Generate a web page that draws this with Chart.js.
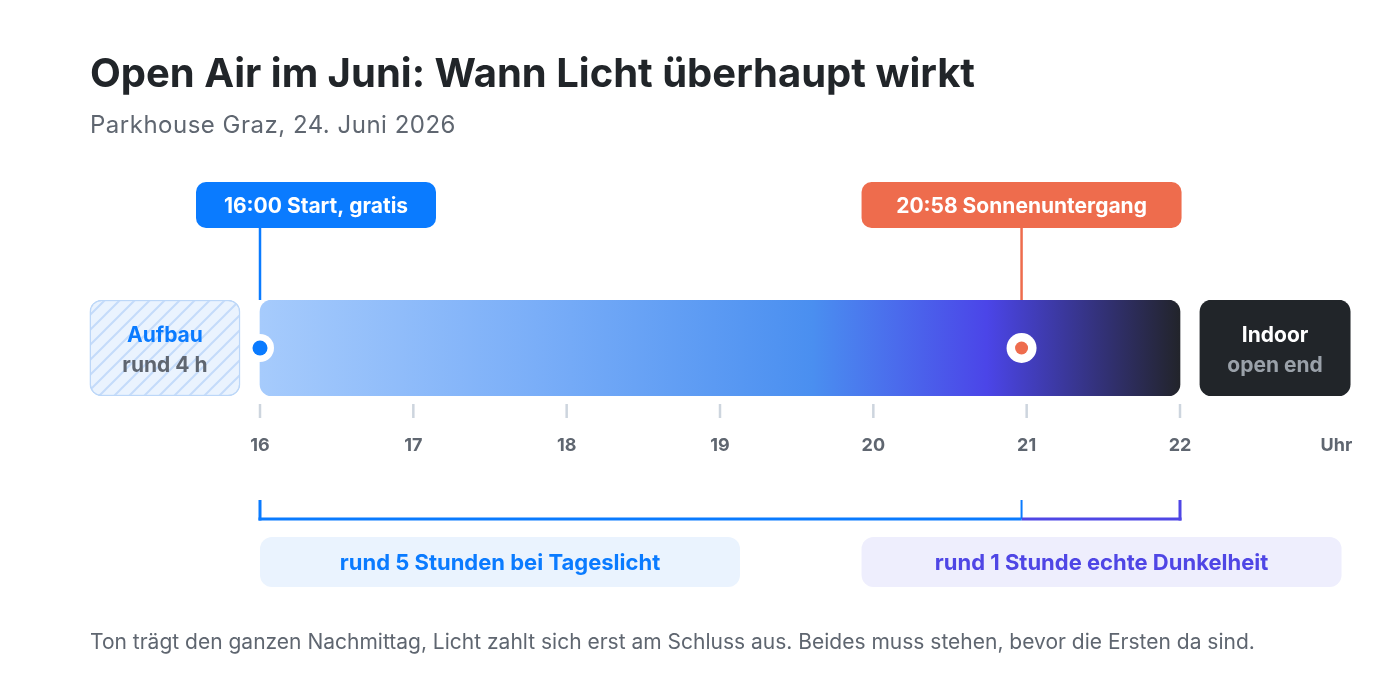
<!DOCTYPE html>
<html>
<head>
<meta charset="utf-8">
<script src="https://cdn.jsdelivr.net/npm/chart.js@4.4.1/dist/chart.umd.min.js"></script>
<style>
  body { margin: 0; background: #fff; font-family: Inter, sans-serif; }
  #wrap { position: relative; width: 1400px; height: 700px; overflow: hidden; }
  #wrap canvas { position: absolute; left: 0; top: 0; }
  .txt { position: absolute; left: 90px; margin: 0; white-space: nowrap; line-height: 1; }
  #title { top: 53px; font-size: 40px; font-weight: 700; color: #212529; }
  #sub { top: 113px; font-size: 24px; font-weight: 400; color: #5f6670; letter-spacing: 0.5px; }
  #note { top: 631px; font-size: 21px; font-weight: 400; color: #5f6670; }
</style>
</head>
<body>
<div id="wrap">
  <canvas id="myChart" width="1400" height="700"></canvas>
  <h1 class="txt" id="title">Open Air im Juni: Wann Licht überhaupt wirkt</h1>
  <div class="txt" id="sub">Parkhouse Graz, 24. Juni 2026</div>
  <div class="txt" id="note">Ton trägt den ganzen Nachmittag, Licht zahlt sich erst am Schluss aus. Beides muss stehen, bevor die Ersten da sind.</div>
</div>
<script>
// data
const tickHours = [16, 17, 18, 19, 20, 21, 22];
const showStart = 16;
const sunset = 20 + 58 / 60;
const showEnd = 22;
const setupText = ['Aufbau', 'rund 4 h'];
const indoorText = ['Indoor', 'open end'];
const markerLabels = ['16:00 Start, gratis', '20:58 Sonnenuntergang'];
const markerTimes = [showStart, sunset];
const spanLabels = ['rund 5 Stunden bei Tageslicht', 'rund 1 Stunde echte Dunkelheit'];
const spanFrom = [showStart, sunset];
const spanTo = [sunset, showEnd];

// side blocks sit just outside the timeline (layout only)
const gap = 0.13, blockW = 0.98;

const BLUE = '#0a7bff', ORANGE = '#ee6c4d', PURPLE = '#4f46e5', DARK = '#212529', GREY = '#5f6670';

function hatch() {
  const p = document.createElement('canvas');
  p.width = p.height = 15;
  const c = p.getContext('2d');
  c.fillStyle = '#eaf3fe';
  c.fillRect(0, 0, 15, 15);
  c.strokeStyle = '#c4dbfa';
  c.lineWidth = 2;
  c.beginPath();
  c.moveTo(0, 15); c.lineTo(15, 0);
  c.moveTo(-4, 4); c.lineTo(4, -4);
  c.moveTo(11, 19); c.lineTo(19, 11);
  c.stroke();
  return c.createPattern(p, 'repeat');
}
const hatchFill = hatch();

function barFill(ctx) {
  const chart = ctx.chart;
  if (!chart.chartArea) return '#4a8ff0';
  if (ctx.dataIndex === 0) return hatchFill;
  if (ctx.dataIndex === 2) return DARK;
  const x = chart.scales.x;
  const g = chart.ctx.createLinearGradient(x.getPixelForValue(showStart), 0, x.getPixelForValue(showEnd), 0);
  g.addColorStop(0, '#a6cbfc');
  g.addColorStop(0.3, '#7aaef8');
  g.addColorStop(0.6, '#4a8ff0');
  g.addColorStop(0.79, '#4b45e8');
  g.addColorStop(1, '#22242b');
  return g;
}

function rrect(c, x, y, w, h, r, fill) {
  c.beginPath();
  c.roundRect(x, y, w, h, r);
  c.fillStyle = fill;
  c.fill();
}
function seg(c, x1, y1, x2, y2, col, w) {
  c.beginPath();
  c.moveTo(x1, y1); c.lineTo(x2, y2);
  c.strokeStyle = col; c.lineWidth = w;
  c.stroke();
}

const overlay = {
  id: 'overlay',
  afterDatasetsDraw(chart) {
    const { ctx: c, chartArea: a, scales: { x } } = chart;
    const px = v => x.getPixelForValue(v);
    const mid = (a.top + a.bottom) / 2;
    c.save();
    c.textAlign = 'center';
    c.textBaseline = 'middle';

    // tick marks
    tickHours.forEach(h => seg(c, px(h), a.bottom + 8, px(h), a.bottom + 22, '#cdd5de', 2.5));

    // callouts
    const boxes = [{ w: 240, dx: 56, col: BLUE }, { w: 320, dx: 0, col: ORANGE }];
    markerTimes.forEach((t, i) => {
      const b = boxes[i], cx = px(t) + b.dx, top = a.top - 118;
      seg(c, px(t), top + 46, px(t), a.top, b.col, 2.5);
      rrect(c, cx - b.w / 2, top, b.w, 46, 10, b.col);
      c.fillStyle = '#fff';
      c.font = '700 21px Inter';
      c.fillText(markerLabels[i], cx, top + 25);
    });

    // dots
    c.beginPath(); c.arc(px(showStart), mid, 14, 0, Math.PI * 2); c.fillStyle = '#fff'; c.fill();
    c.beginPath(); c.arc(px(showStart), mid, 7.5, 0, Math.PI * 2); c.fillStyle = BLUE; c.fill();
    c.beginPath(); c.arc(px(sunset), mid, 15, 0, Math.PI * 2); c.fillStyle = '#fff'; c.fill();
    c.beginPath(); c.arc(px(sunset), mid, 6.5, 0, Math.PI * 2); c.fillStyle = ORANGE; c.fill();

    // side block texts
    c.font = '700 21px Inter';
    const sx = px(showStart - gap - blockW / 2), ix = px(showEnd + gap + blockW / 2);
    c.fillStyle = BLUE; c.fillText(setupText[0], sx, mid - 12);
    c.fillStyle = GREY; c.fillText(setupText[1], sx, mid + 18);
    c.fillStyle = '#fff'; c.fillText(indoorText[0], ix, mid - 12);
    c.fillStyle = '#9aa1a9'; c.fillText(indoorText[1], ix, mid + 18);

    // brackets
    const by = a.bottom + 123, bt = a.bottom + 104;
    seg(c, px(spanFrom[0]), bt, px(spanFrom[0]), by + 1.5, BLUE, 3);
    seg(c, px(spanTo[0]), bt, px(spanTo[0]), by, BLUE, 2);
    seg(c, px(spanFrom[1]), by, px(spanTo[1]) + 1.5, by, PURPLE, 3);
    seg(c, px(spanTo[1]), bt, px(spanTo[1]), by + 1.5, PURPLE, 3);
    seg(c, px(spanFrom[0]) - 1.5, by, px(spanTo[0]), by, BLUE, 3);

    // span labels
    const lbl = [{ left: px(spanFrom[0]), bg: '#eaf3fe', col: BLUE }, { left: px(sunset) - 160, bg: '#eeeefd', col: PURPLE }];
    lbl.forEach((l, i) => {
      rrect(c, l.left, a.bottom + 141, 480, 50, 12, l.bg);
      c.fillStyle = l.col;
      c.font = '700 22px Inter';
      c.fillText(spanLabels[i], l.left + 240, a.bottom + 167);
    });
    c.restore();
  }
};

new Chart(document.getElementById('myChart').getContext('2d'), {
  type: 'bar',
  data: {
    labels: ['Abend'],
    datasets: [{
      data: [
        { x: [showStart - gap - blockW, showStart - gap], y: 'Abend' },
        { x: [showStart, showEnd], y: 'Abend' },
        { x: [showEnd + gap, showEnd + gap + blockW], y: 'Abend' }
      ],
      backgroundColor: barFill,
      borderColor: '#bcd7f8',
      borderWidth: ctx => ctx.dataIndex === 0 ? 1.5 : 0,
      borderSkipped: false,
      borderRadius: 12,
      barPercentage: 1,
      categoryPercentage: 1
    }]
  },
  options: {
    indexAxis: 'y',
    responsive: false,
    animation: false,
    events: [],
    layout: { padding: { left: 76, right: 36, top: 300, bottom: 244 } },
    plugins: { legend: { display: false }, tooltip: { enabled: false } },
    scales: {
      x: {
        type: 'linear',
        min: 14.8,
        max: 23.2,
        afterBuildTicks: s => { s.ticks = tickHours.concat([23.02]).map(v => ({ value: v })); },
        afterFit: s => { s.height = 60; },
        grid: { display: false, drawTicks: false },
        border: { display: false },
        ticks: {
          padding: 39,
          autoSkip: false,
          maxRotation: 0,
          color: GREY,
          font: { family: 'Inter', size: 18, weight: '700' },
          callback: v => v > showEnd + 0.5 ? 'Uhr' : v
        }
      },
      y: { type: 'category', display: false }
    }
  },
  plugins: [overlay]
});
</script>
</body>
</html>
